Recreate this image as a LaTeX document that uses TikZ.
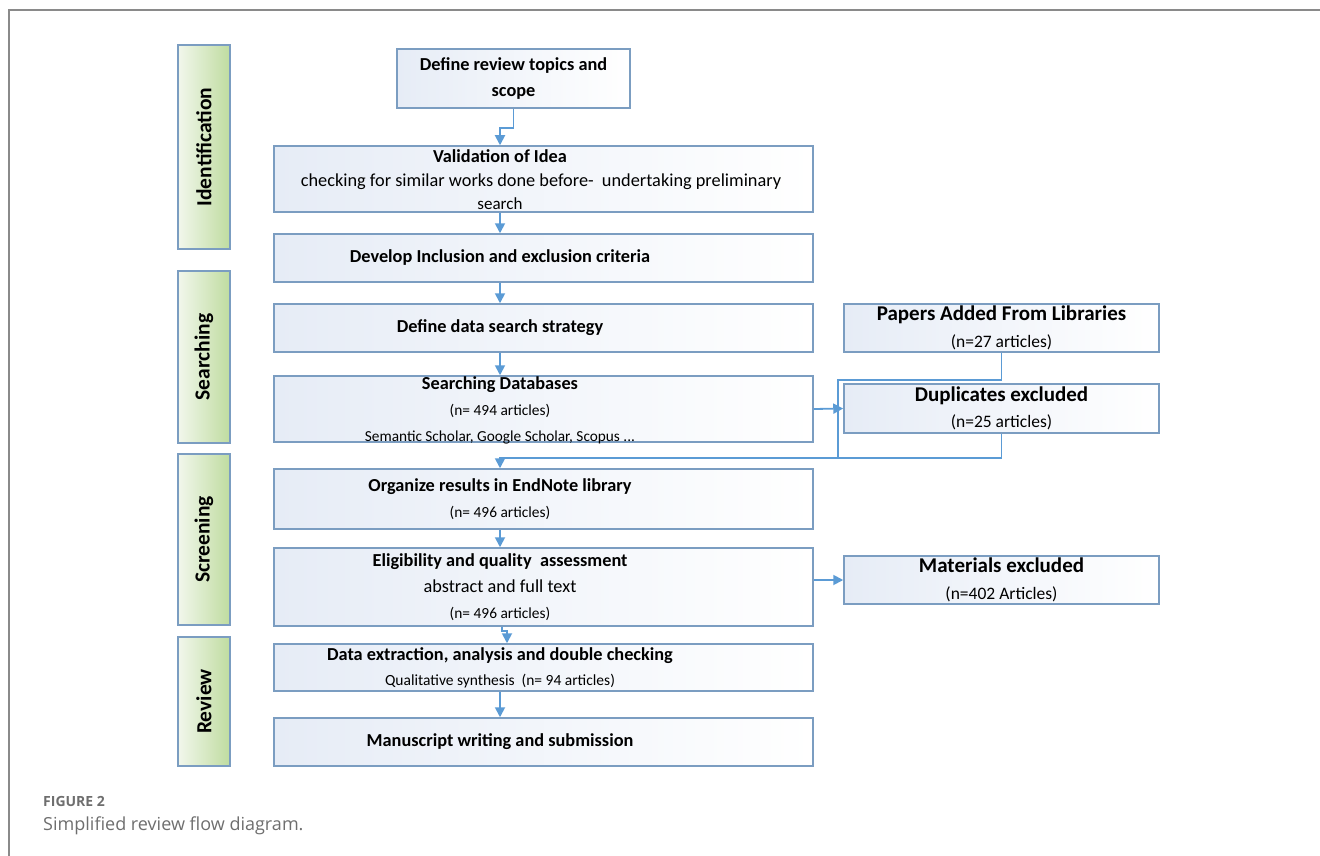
\documentclass[tikz,border=0pt]{standalone}
\usepackage{fontspec}
\setmainfont{Carlito}
\newfontfamily\capfont{Open Sans}
\usetikzlibrary{arrows.meta}

\begin{document}
\begin{tikzpicture}[x=1pt, y=-1pt,
    mainbox/.style={draw=boxline, line width=1.5pt, left color=boxfill, right color=white, minimum width=539pt, inner sep=0pt},
    sidebox/.style={draw=boxline, line width=1.5pt, left color=sidepale, right color=sidegreen, minimum height=52pt, inner sep=0pt, rotate=90, font=\fontsize{21.5}{24}\selectfont\bfseries},
    rightbox/.style={draw=boxline, line width=1.5pt, left color=boxfill, right color=white, minimum width=315pt, minimum height=48pt, align=center, inner sep=0pt, font=\fontsize{21}{26.5}\selectfont},
    btext/.style={align=center, inner sep=0pt, font=\fontsize{18.3}{26}\selectfont},
    flow/.style={draw=arrowblue, line width=1.8pt, -{Triangle[length=10pt,width=10pt]}},
    link/.style={draw=arrowblue, line width=1.8pt}]
          \definecolor{boxline}{HTML}{7B9DC1}
          \definecolor{boxfill}{HTML}{E6ECF6}
          \definecolor{sidepale}{HTML}{F2F7EC}
          \definecolor{sidegreen}{HTML}{BFDCA0}
          \definecolor{arrowblue}{HTML}{5B9BD5}
          \definecolor{framegrey}{HTML}{8A8A8A}
          \definecolor{capgrey}{HTML}{6E6E6E}
          \useasboundingbox (0,0) rectangle (1320,856);
          \draw[framegrey, line width=2pt] (9,856) -- (9,10) -- (1320,10);
          \coordinate (axis) at (500,0);
          % phases
          \node[sidebox, minimum width=204pt] (ident) at (204,147) {Identification};
          \node[sidebox, minimum width=172pt] (search) at (204,357) {Searching};
          \node[sidebox, minimum width=171pt] (screen) at (204,539.5) {Screening};
          \node[sidebox, minimum width=129pt] (review) at (204,701.5) {Review};
          % main column
          \node[mainbox, minimum width=233pt, minimum height=59pt] (topic) at (513.5,78.5) {};
          \node[btext] (topic-t) at (513.5,79) {\textbf{Define review topics and}\\\textbf{scope}};
          \node[mainbox, minimum height=66pt] (valid) at (543.5,179) {};
          \node[btext, font=\fontsize{18.3}{23.5}\selectfont] (valid-t) at (500,180) {\textbf{Validation of Idea}\\\hspace*{82pt}checking for similar works done before-\ \ undertaking preliminary\\{\fontsize{17}{23.5}\selectfont search}};
          \node[mainbox, minimum height=48pt] (develop) at (543.5,258) {};
          \node[btext] (develop-t) at (500,258) {\textbf{Develop Inclusion and exclusion criteria}};
          \node[mainbox, minimum height=48pt] (strategy) at (543.5,328) {};
          \node[btext] (strategy-t) at (500,328) {\textbf{Define data search strategy}};
          \node[mainbox, minimum height=66pt] (searchdb) at (543.5,409) {};
          \node[btext] (searchdb-t) at (500,410) {\textbf{Searching Databases}\\{\fontsize{15.4}{26}\selectfont (n= 494 articles)}\\{\fontsize{15.3}{26}\selectfont Semantic Scholar, Google Scholar, Scopus ...}};
          \node[mainbox, minimum height=60pt] (organize) at (543.5,499) {};
          \node[btext] (organize-t) at (500,499) {\textbf{Organize results in EndNote library}\\{\fontsize{15.4}{26}\selectfont (n= 496 articles)}};
          \node[mainbox, minimum height=78pt] (eligib) at (543.5,587) {};
          \node[btext] (eligib-t) at (500,587) {\textbf{Eligibility and quality\ \ assessment}\\abstract and full text\\{\fontsize{15.4}{26}\selectfont (n= 496 articles)}};
          \node[mainbox, minimum height=47pt] (extract) at (543.5,667.5) {};
          \node[btext, font=\fontsize{18.3}{25}\selectfont] (extract-t) at (500,668) {\textbf{Data extraction, analysis and double checking}\\{\fontsize{15.5}{25}\selectfont Qualitative synthesis\ \ (n= 94 articles)}};
          \node[mainbox, minimum height=48pt] (manuscript) at (543.5,742) {};
          \node[btext] (manuscript-t) at (500,742) {\textbf{Manuscript writing and submission}};
          % side column
          \node[rightbox] (papers) at (1001.5,328) {\textbf{Papers Added From Libraries}\\{\fontsize{17.5}{26.5}\selectfont (n=27 articles)}};
          \node[rightbox, minimum height=49pt] (dups) at (1001.5,408.5) {\textbf{Duplicates excluded}\\{\fontsize{17.5}{26.5}\selectfont (n=25 articles)}};
          \node[rightbox] (materials) at (1001.5,580) {\textbf{Materials excluded}\\{\fontsize{17.5}{26.5}\selectfont (n=402 Articles)}};
          % connectors
          \coordinate (merge) at (838,459);
          \draw[flow] (topic.south) -- ++(0,19) -| (valid.north -| axis);
          \draw[flow] (valid.south -| axis) -- (develop.north -| axis);
          \draw[flow] (develop.south -| axis) -- (strategy.north -| axis);
          \draw[flow] (strategy.south -| axis) -- (searchdb.north -| axis);
          \draw[flow] (searchdb.east) -- (dups.west);
          \draw[link] (papers.south) -- ++(0,27) -| (merge);
          \draw[flow] (dups.south) |- ([yshift=10pt]organize.north -| axis) -- (organize.north -| axis);
          \draw[flow] (organize.south -| axis) -- (eligib.north -| axis);
          \draw[flow] (materials.west -| eligib.east) -- (materials.west);
          \draw[flow] ([xshift=2pt]eligib.south -| axis) -- ++(0,4) -| ([xshift=7pt]extract.north -| axis);
          \draw[flow] (extract.south -| axis) -- (manuscript.north -| axis);
          % caption
          \node[anchor=base west, inner sep=0pt, text=capgrey, font=\capfont\fontsize{14}{16}\selectfont\bfseries] (figno) at (43,806) {FIGURE 2};
          \node[anchor=base west, inner sep=0pt, text=capgrey, font=\capfont\fontsize{18}{20}\selectfont] (caption) at (43,830) {Simplified review flow diagram.};
    \end{tikzpicture}
\end{document}
